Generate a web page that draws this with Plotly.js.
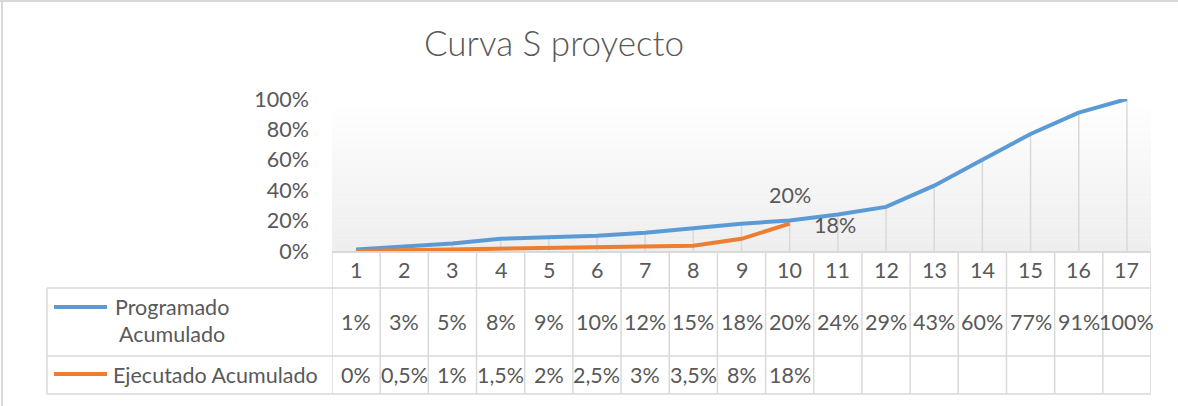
<!DOCTYPE html>
<html>
<head>
<meta charset="utf-8">
<script src="https://cdn.plot.ly/plotly-3.0.1.min.js"></script>
<style>
  html, body { margin: 0; padding: 0; background: #ffffff; }
  #chart { width: 1178px; height: 406px; }
</style>
</head>
<body>
<div id="chart"></div>
<script>
// ---- data ----
const chartTitle = "Curva S proyecto";
const periods = ["1","2","3","4","5","6","7","8","9","10","11","12","13","14","15","16","17"];
const programadoName = ["Programado", "Acumulado"];
const programado = [1, 3, 5, 8, 9, 10, 12, 15, 18, 20, 24, 29, 43, 60, 77, 91, 100];
const ejecutadoName = "Ejecutado Acumulado";
const ejecutado = [0, 0.5, 1, 1.5, 2, 2.5, 3, 3.5, 8, 18];
const yTicks = [0, 20, 40, 60, 80, 100];
const yTickText = ["0%", "20%", "40%", "60%", "80%", "100%"];

// ---- layout constants ----
const W = 1178, H = 406;
const L = 332, R = 27, T = 99, B = 155;
const PW = W - L - R, PH = H - T - B;
const FONT = "Lato, 'Open Sans', sans-serif";
const TXT = "#595959";
const GRID = "#d9d9d9";
const FS = 21.5;
const px = v => (v - L) / PW;          // pixel x -> paper x
const py = v => (H - B - v) / PH;      // pixel y -> paper y
const fmt = v => String(v).replace(".", ",") + "%";

const xs = periods.map((p, i) => i + 1);

// drop lines (from the highest point of each category down to the axis)
const dropX = [], dropY = [];
xs.forEach((x, i) => {
  const top = Math.max(programado[i], ejecutado[i] !== undefined ? ejecutado[i] : 0);
  dropX.push(x, x, null);
  dropY.push(0, top, null);
});

const traces = [
  { x: dropX, y: dropY, mode: "lines", line: { color: GRID, width: 1.5 }, hoverinfo: "skip", showlegend: false, cliponaxis: false },
  { x: xs, y: programado, name: programadoName.join(" "), mode: "lines", line: { color: "#5b9bd5", width: 4 }, showlegend: false, cliponaxis: false },
  { x: xs.slice(0, ejecutado.length), y: ejecutado, name: ejecutadoName, mode: "lines", line: { color: "#ed7d31", width: 4 }, showlegend: false, cliponaxis: false }
];

const shapes = [];
// plot-area gradient (white at top -> light grey at bottom)
const N = 40;
for (let i = 0; i < N; i++) {
  const c = Math.round(238 + (255 - 238) * (i / (N - 1)));
  shapes.push({ type: "rect", xref: "paper", yref: "paper", x0: 0, x1: 1, y0: i / N, y1: (i + 1) / N + 0.002,
    fillcolor: `rgb(${c},${c},${c})`, line: { width: 0 }, layer: "below" });
}
// chart outer border (top & left)
shapes.push({ type: "line", xref: "paper", yref: "paper", x0: px(0), x1: px(W), y0: py(1), y1: py(1), line: { color: GRID, width: 2 } });
shapes.push({ type: "line", xref: "paper", yref: "paper", x0: px(2), x1: px(2), y0: py(0), y1: py(H), line: { color: GRID, width: 2 } });

// data table grid
const rowLines = [288, 356, 394];
rowLines.forEach(yv => shapes.push({ type: "line", xref: "paper", yref: "paper", x0: px(47), x1: 1, y0: py(yv), y1: py(yv), line: { color: GRID, width: 1.5 } }));
shapes.push({ type: "line", xref: "paper", yref: "paper", x0: px(47), x1: px(47), y0: py(288), y1: py(394), line: { color: GRID, width: 1.5 } });
for (let k = 0; k <= periods.length; k++) {
  shapes.push({ type: "line", xref: "x", yref: "paper", x0: k + 0.5, x1: k + 0.5, y0: 0, y1: py(394), line: { color: GRID, width: 1.5 } });
}
// legend keys
shapes.push({ type: "line", xref: "paper", yref: "paper", x0: px(54), x1: px(107), y0: py(307), y1: py(307), line: { color: "#5b9bd5", width: 4 } });
shapes.push({ type: "line", xref: "paper", yref: "paper", x0: px(54), x1: px(107), y0: py(374), y1: py(374), line: { color: "#ed7d31", width: 4 } });

const annotations = [];
const tf = { family: FONT, size: FS, color: TXT };
periods.forEach((p, i) => {
  annotations.push({ x: xs[i], xref: "x", y: py(270), yref: "paper", text: p, showarrow: false, font: tf, xanchor: "center", yanchor: "middle" });
  annotations.push({ x: xs[i], xref: "x", y: py(322), yref: "paper", text: fmt(programado[i]), showarrow: false, font: tf, xanchor: "center", yanchor: "middle" });
  if (ejecutado[i] !== undefined)
    annotations.push({ x: xs[i], xref: "x", y: py(375), yref: "paper", text: fmt(ejecutado[i]), showarrow: false, font: tf, xanchor: "center", yanchor: "middle" });
});
annotations.push({ x: px(172), xref: "paper", y: py(307), yref: "paper", text: programadoName[0], showarrow: false, font: tf, xanchor: "center", yanchor: "middle" });
annotations.push({ x: px(172), xref: "paper", y: py(334), yref: "paper", text: programadoName[1], showarrow: false, font: tf, xanchor: "center", yanchor: "middle" });
annotations.push({ x: px(111), xref: "paper", y: py(375), yref: "paper", text: ejecutadoName, showarrow: false, font: tf, xanchor: "left", yanchor: "middle" });
// data labels
const li = ejecutado.length - 1;
annotations.push({ x: xs[li], y: programado[li], text: fmt(programado[li]), showarrow: false, font: tf, xanchor: "center", yanchor: "middle", yshift: 26 });
annotations.push({ x: xs[li], y: ejecutado[li], text: fmt(ejecutado[li]), showarrow: false, font: tf, xanchor: "left", yanchor: "middle", xshift: 22, yshift: -1 });

const layout = {
  width: W, height: H,
  margin: { l: L, r: R, t: T, b: B, autoexpand: false },
  paper_bgcolor: "#ffffff", plot_bgcolor: "rgba(0,0,0,0)",
  title: { text: chartTitle, x: 554 / W, xanchor: "center", y: 1 - 44 / H, yanchor: "middle", xref: "container", yref: "container",
           font: { family: FONT, size: 35, weight: 300, color: TXT } },
  xaxis: { range: [0.5, periods.length + 0.5], showticklabels: false, ticks: "", showgrid: false, zeroline: false,
           showline: true, linecolor: GRID, linewidth: 1.5, fixedrange: true },
  yaxis: { range: [0, 100], tickmode: "array", tickvals: yTicks, ticktext: yTickText, showgrid: false, zeroline: false, showline: false,
           ticks: "", ticklabelstandoff: 22, tickfont: tf, fixedrange: true },
  shapes: shapes,
  annotations: annotations,
  showlegend: false
};

Plotly.newPlot("chart", traces, layout, { displayModeBar: false, staticPlot: true });
</script>
</body>
</html>
